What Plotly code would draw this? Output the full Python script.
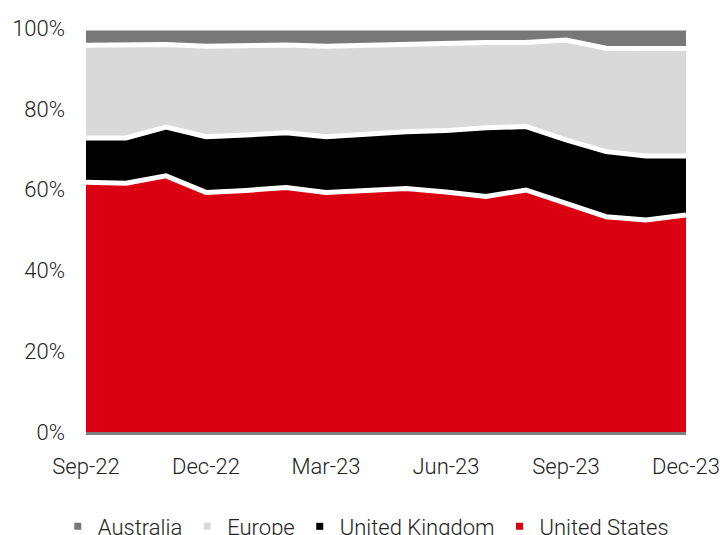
import plotly.graph_objects as go

# Monthly regional share (%), Sep-22 .. Dec-23
months = ["Sep-22", "Oct-22", "Nov-22", "Dec-22", "Jan-23", "Feb-23", "Mar-23", "Apr-23",
          "May-23", "Jun-23", "Jul-23", "Aug-23", "Sep-23", "Oct-23", "Nov-23", "Dec-23"]

united_states = [61.8, 61.6, 63.4, 59.3, 59.8, 60.5, 59.3, 59.9, 60.3, 59.4, 58.3, 59.9, 56.6, 53.3, 52.5, 53.7]
united_kingdom = [11.0, 11.2, 12.1, 13.8, 13.7, 13.6, 13.8, 13.9, 14.0, 15.2, 17.0, 15.7, 15.7, 16.1, 15.8, 14.6]
europe = [22.9, 23.1, 20.4, 22.4, 22.1, 21.7, 22.4, 22.0, 21.7, 21.6, 21.1, 20.8, 24.7, 25.6, 26.7, 26.6]
australia = [4.3, 4.1, 4.1, 4.5, 4.4, 4.2, 4.5, 4.2, 4.0, 3.8, 3.6, 3.6, 3.0, 5.0, 5.0, 5.1]

tick_labels = ["Sep-22", "Dec-22", "Mar-23", "Jun-23", "Sep-23", "Dec-23"]

series = [
    ("United States", united_states, "#DB0011"),
    ("United Kingdom", united_kingdom, "#000000"),
    ("Europe", europe, "#D9D9D9"),
    ("Australia", australia, "#787878"),
]

FONT = "Roboto, Liberation Sans, Arial, sans-serif"
TEXT = "#222222"
SIZE = 22

fig = go.Figure()

# Stacked areas with white separators
for name, vals, color in series:
    fig.add_trace(go.Scatter(
        x=months, y=vals, name=name, mode="lines",
        stackgroup="share",
        line=dict(color="white", width=5),
        fillcolor=color,
        showlegend=False,
        hoverinfo="x+y+name",
    ))

# Legend entries as small square keys
for name, _, color in reversed(series):
    fig.add_trace(go.Scatter(
        x=[None], y=[None], name=name, mode="markers",
        marker=dict(symbol="square", size=7, color=color),
        showlegend=True,
    ))

fig.update_layout(
    width=726, height=535,
    margin=dict(l=86, r=40, t=28, b=103, autoexpand=False),
    paper_bgcolor="white", plot_bgcolor="white",
    font=dict(family=FONT, size=SIZE, color=TEXT, weight=300),
    legend=dict(
        orientation="h", x=-0.047, xanchor="left", y=-0.182, yanchor="top",
        font=dict(family=FONT, size=SIZE, color=TEXT, weight=300),
        traceorder="normal",
        itemclick=False, itemdoubleclick=False,
    ),
    showlegend=True,
)

fig.update_xaxes(
    type="category", range=[0, len(months) - 1],
    tickmode="array", tickvals=tick_labels, ticktext=tick_labels,
    showgrid=False, zeroline=False,
    showline=True, linecolor="#7f7f7f", linewidth=3,
    ticks="", ticklabelstandoff=13,
)
fig.update_yaxes(
    range=[0, 100], dtick=20, ticksuffix="%",
    showgrid=False, zeroline=False, showline=False,
    ticks="", ticklabelstandoff=20,
)

fig.write_html("out.html")
